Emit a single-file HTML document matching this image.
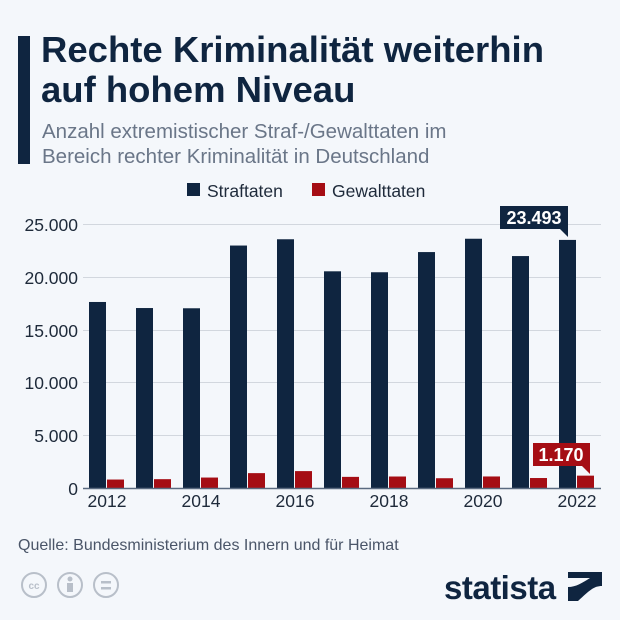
<!DOCTYPE html>
<html><head><meta charset="utf-8"><style>
body{margin:0;width:620px;height:620px;background:#f4f7fb;font-family:"Liberation Sans",sans-serif;overflow:hidden;position:relative}
.bar{position:absolute;left:18px;top:36px;width:12px;height:128px;background:#0f2540}
.t{position:absolute;left:41px;top:30px;font-size:36.5px;font-weight:bold;color:#0f2540;line-height:40px;white-space:nowrap}
.s{position:absolute;left:42px;top:119px;font-size:20.5px;color:#6a7688;line-height:25px;white-space:nowrap}
</style></head><body>
<div class="bar"></div>
<div class="t">Rechte Kriminalität weiterhin<br>auf hohem Niveau</div>
<div class="s">Anzahl extremistischer Straf-/Gewalttaten im<br>Bereich rechter Kriminalität in Deutschland</div>
<svg width="620" height="620" style="position:absolute;left:0;top:0" font-family="Liberation Sans, sans-serif">
<rect x="187" y="183" width="13" height="13" fill="#0f2540"/><text x="207" y="197" font-size="17.5" fill="#1e2a3a">Straftaten</text>
<rect x="312" y="183" width="13" height="13" fill="#a50d14"/><text x="332" y="197" font-size="17.5" fill="#1e2a3a">Gewalttaten</text>
<g stroke="#d2d7de" stroke-width="1">
<line x1="83" x2="601" y1="224.5" y2="224.5"/><line x1="83" x2="601" y1="277.5" y2="277.5"/><line x1="83" x2="601" y1="330.5" y2="330.5"/><line x1="83" x2="601" y1="382.5" y2="382.5"/><line x1="83" x2="601" y1="435.5" y2="435.5"/>
</g>
<g font-size="17.5" fill="#1e2a3a" text-anchor="end">
<text x="78" y="231">25.000</text><text x="78" y="284">20.000</text><text x="78" y="337">15.000</text><text x="78" y="389">10.000</text><text x="78" y="442">5.000</text><text x="78" y="495">0</text>
</g>
<g id="bars"></g>
<line x1="83" x2="601" y1="488.5" y2="488.5" stroke="#5a6a80" stroke-width="1.5"/>
<g font-size="17.5" fill="#1e2a3a" text-anchor="middle">
<text x="107" y="507">2012</text><text x="201" y="507">2014</text><text x="295" y="507">2016</text><text x="389" y="507">2018</text><text x="483" y="507">2020</text><text x="577" y="507">2022</text>
</g>
<path d="M500 206H568V237L560 229H500Z" fill="#0f2540"/>
<text x="534" y="224" font-size="18" font-weight="bold" fill="#fff" text-anchor="middle">23.493</text>
<path d="M533 443H590V474L582 466H533Z" fill="#a50d14"/>
<text x="561" y="461" font-size="18" font-weight="bold" fill="#fff" text-anchor="middle">1.170</text>
<text x="18" y="550" font-size="16" fill="#4a5568">Quelle: Bundesministerium des Innern und für Heimat</text>
<g fill="none" stroke="#b8bfc9" stroke-width="2">
<circle cx="34" cy="585" r="12"/><circle cx="70" cy="585" r="12"/><circle cx="106" cy="585" r="12"/>
</g>
<text x="34" y="589" font-size="10" font-weight="bold" fill="#b8bfc9" text-anchor="middle">cc</text>
<circle cx="70" cy="579" r="2.5" fill="#b8bfc9"/><rect x="67" y="583" width="6" height="9" fill="#b8bfc9"/>
<rect x="101" y="581" width="10" height="2.5" fill="#b8bfc9"/><rect x="101" y="587" width="10" height="2.5" fill="#b8bfc9"/>
<text x="444" y="599" font-size="33" font-weight="bold" fill="#0f2540" letter-spacing="-0.5">statista</text>
<path d="M568 572H602V586C594 586 590 590 578 601H568V587C576 587 582 583 590 578H568Z" fill="#0f2540"/>
</svg>
<script>
var d=[17616,17042,17020,22960,23555,20520,20431,22342,23604,21964,23493],v=[802,837,990,1408,1600,1054,1088,925,1092,945,1170],s="";
for(var i=0;i<11;i++){var x=89+47*i,h=d[i]*264/25000,h2=v[i]*264/25000;
s+='<rect x="'+x+'" y="'+(488-h)+'" width="17" height="'+h+'" fill="#0f2540"/>';
s+='<rect x="'+(x+18)+'" y="'+(488-h2)+'" width="17" height="'+h2+'" fill="#a50d14"/>';}
document.getElementById("bars").innerHTML=s;
</script>
</body></html>
